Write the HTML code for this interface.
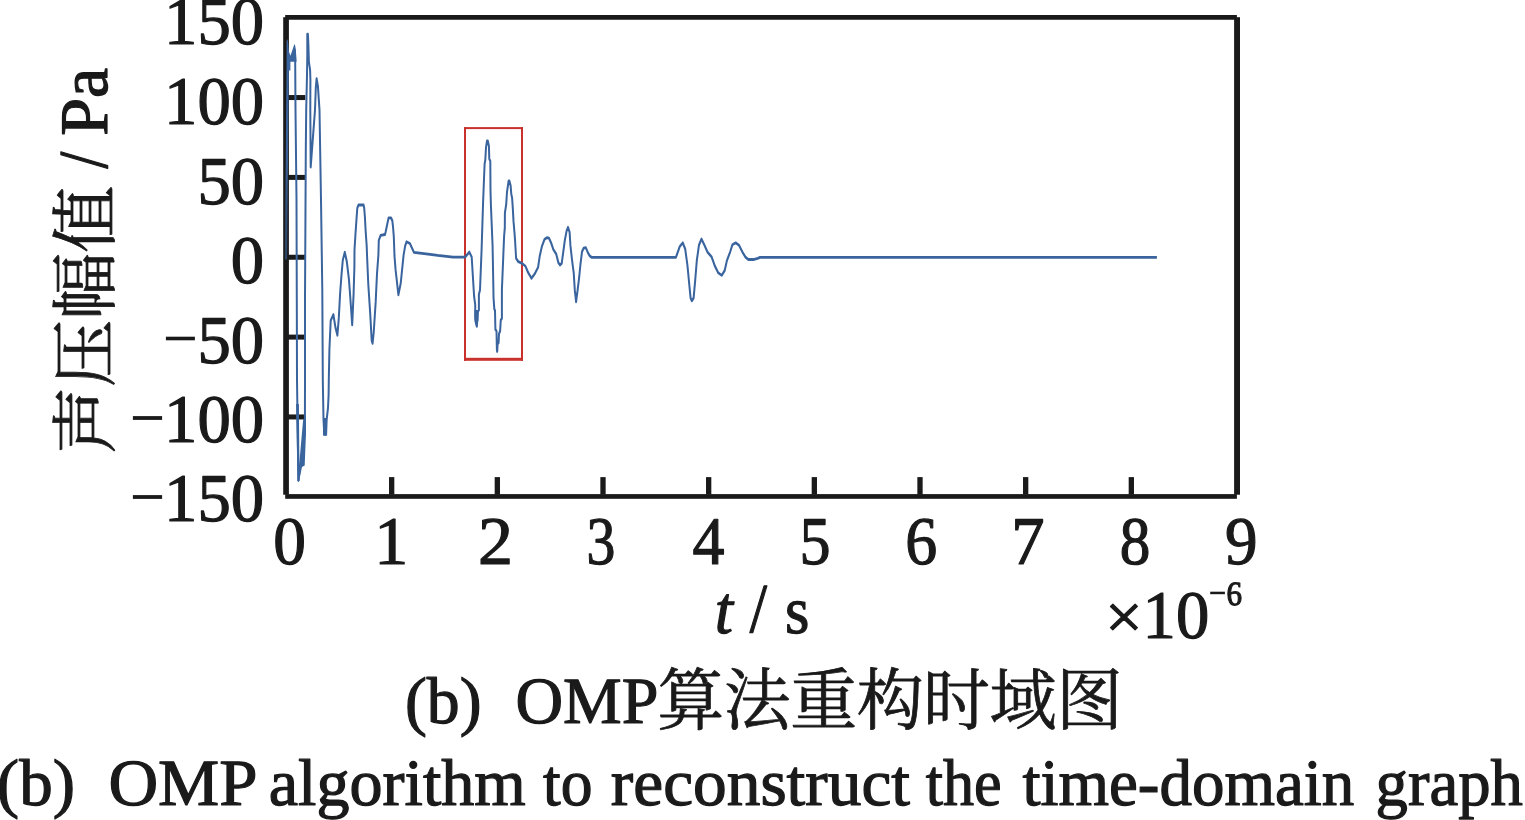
<!DOCTYPE html>
<html lang="zh"><head><meta charset="utf-8"><title>OMP algorithm to reconstruct the time-domain graph</title>
<style>
html,body{margin:0;padding:0;background:#fff;}
body{width:1525px;height:820px;overflow:hidden;font-family:"Liberation Serif",serif;}
svg{display:block;}
</style></head><body>
<svg width="1525" height="820" viewBox="0 0 1525 820">
<rect width="1525" height="820" fill="#ffffff"/>
<g fill="#1a1a1a">
<rect x="283.2" y="17.2" width="5.7" height="477.5"/>
<rect x="1234.1" y="17.2" width="5.9" height="477.5"/>
<rect x="285.2" y="15" width="951.7" height="4.75"/>
<rect x="285.2" y="494.1" width="951.7" height="4.7"/>
<rect x="389.02" y="477.1" width="5.3" height="17.5"/>
<rect x="494.68" y="477.1" width="5.3" height="17.5"/>
<rect x="600.35" y="477.1" width="5.3" height="17.5"/>
<rect x="706.02" y="477.1" width="5.3" height="17.5"/>
<rect x="811.68" y="477.1" width="5.3" height="17.5"/>
<rect x="917.35" y="477.1" width="5.3" height="17.5"/>
<rect x="1023.02" y="477.1" width="5.3" height="17.5"/>
<rect x="1128.68" y="477.1" width="5.3" height="17.5"/>
<rect x="288" y="95.05" width="17.3" height="5"/>
<rect x="288" y="174.90" width="17.3" height="5"/>
<rect x="288" y="254.75" width="17.3" height="5"/>
<rect x="288" y="334.60" width="17.3" height="5"/>
<rect x="288" y="414.45" width="17.3" height="5"/>
</g>
<g fill="#c9312c">
<rect x="464" y="127.1" width="59" height="2"/>
<rect x="464" y="357.8" width="59" height="3"/>
<rect x="464" y="127.1" width="2" height="233.7"/>
<rect x="521" y="127.1" width="2" height="233.7"/>
</g>
<path transform="scale(1,1.4)" d="M294.9,35.71 L295.2,44.29 L295.5,78.57 L296.5,142.86 L296.8,214.29 L297.0,271.43 L298.1,326.43 L298.4,343.21 L304.9,308.57 L305.0,271.43 L305.0,214.29 L305.8,107.14 L306.2,78.57 L307.0,53.57 L307.3,39.29 L307.3,24.43 L307.9,24.43 L308.4,32.14 L308.9,44.29 L310.1,50.00 L310.4,57.14 L310.3,78.57 L310.7,119.29 L315.0,78.57 L315.8,62.86 L316.6,56.14 L317.9,61.43 L319.5,78.57 L321.0,142.86 L322.3,207.14 L322.8,271.43 L323.5,300.00 L324.3,310.29 L326.0,310.29 L326.6,300.00 L328.0,291.43 L328.6,282.14 L328.8,271.43 L329.4,250.00 L330.7,228.93 L333.4,224.71 L335.4,233.71 L337.4,239.50 L338.8,227.07 L340.1,209.79 L341.5,196.36 L342.8,185.79 L344.8,180.14 L346.8,186.79 L348.9,199.21 L350.2,211.71 L352.2,232.00 L353.6,209.79 L354.4,190.57 L354.5,178.57 L355.4,168.00 L356.5,156.50 L357.3,148.71 L358.5,146.43 L363.6,146.43 L364.2,148.71 L364.9,154.93 L365.6,164.36 L366.7,175.86 L367.1,183.57 L368.3,203.07 L370.3,225.14 L371.7,243.36 L372.6,245.29 L373.7,237.57 L375.7,215.50 L377.0,195.43 L378.4,182.14 L378.8,171.71 L380.6,168.14 L385.0,167.50 L385.7,165.43 L387.2,160.21 L388.6,155.64 L391.0,155.64 L392.3,157.57 L393.0,161.79 L393.8,169.07 L394.5,182.86 L395.6,192.86 L398.4,210.64 L400.7,202.43 L403.6,182.14 L405.1,175.86 L406.6,172.64 L409.9,173.93 L413.9,180.21 L430.0,181.64 L437.7,182.43 L453.0,183.64 L465.1,183.64 L469.3,180.07 L471.7,183.57 L473.7,207.14 L474.2,212.36 L475.2,217.57 L475.4,229.07 L476.8,233.14 L477.5,227.14 L477.8,222.86 L478.9,221.43 L478.9,210.29 L480.0,207.14 L481.6,178.14 L483.0,146.43 L483.8,131.43 L484.6,117.14 L485.3,114.29 L486.0,105.36 L487.0,100.71 L487.8,100.71 L488.9,104.29 L489.3,113.57 L490.3,115.00 L490.5,135.71 L490.9,146.43 L492.6,175.79 L493.4,207.14 L493.5,212.36 L494.3,220.71 L495.0,221.79 L495.4,235.36 L496.5,236.43 L496.9,250.00 L497.2,251.07 L497.6,245.79 L498.6,244.79 L499.0,238.50 L500.1,236.43 L500.8,228.57 L501.9,227.50 L501.9,207.14 L504.1,168.71 L504.8,162.86 L504.9,152.14 L506.2,146.00 L507.0,137.14 L508.6,129.29 L509.4,129.29 L510.6,132.43 L511.3,138.64 L512.1,141.29 L512.8,148.57 L513.5,158.00 L514.5,166.36 L515.1,172.14 L516.1,184.43 L518.3,186.93 L522.1,188.14 L525.4,190.07 L528.2,194.79 L531.5,198.79 L534.8,195.57 L538.1,190.86 L539.7,183.00 L541.9,175.93 L544.6,170.86 L546.8,169.79 L549.0,170.14 L551.2,173.64 L553.4,178.29 L556.2,181.43 L558.4,187.71 L560.0,189.29 L561.7,188.14 L563.3,179.86 L564.9,171.29 L566.6,165.00 L568.0,162.36 L569.6,165.79 L570.4,175.14 L572.1,186.14 L573.7,194.79 L574.8,207.29 L576.1,215.57 L577.6,207.29 L579.2,197.93 L580.5,188.50 L582.0,179.86 L583.6,177.29 L585.8,176.86 L588.0,180.64 L589.6,182.64 L591.8,183.86 L675.9,183.86 L679.8,176.07 L682.8,173.43 L685.2,177.86 L687.4,189.29 L689.4,204.21 L690.6,212.86 L691.9,214.93 L693.6,212.86 L695.1,201.07 L696.8,186.14 L699.0,175.00 L701.5,170.71 L703.9,174.36 L707.7,180.29 L711.6,183.43 L714.9,190.07 L718.2,194.79 L721.7,196.71 L724.7,193.21 L726.9,186.14 L730.2,179.86 L732.4,174.79 L735.7,173.43 L739.0,175.14 L742.3,179.86 L745.6,183.79 L748.3,185.36 L753.3,185.36 L757.7,184.57 L759.9,183.86 L1156.9,183.86" fill="none" stroke="#3a649e" stroke-width="2.0" stroke-linejoin="round" stroke-linecap="butt"/>
<g fill="#3a649e">
<polygon points="286.5,70.5 286.6,41 287.2,39 287.9,41 288.8,51.3 290.5,55.7 293.9,45.5 294.5,43.9 295.1,45.5 295.8,49 296.6,61.7 290.4,61.7 290.4,70.5"/>
<linearGradient id="rg" gradientUnits="userSpaceOnUse" x1="0" y1="70" x2="0" y2="259"><stop offset="0" stop-color="#3a649e"/><stop offset="0.45" stop-color="#3a649e" stop-opacity="0.95"/><stop offset="1" stop-color="#3a649e" stop-opacity="0.55"/></linearGradient>
<polygon fill="url(#rg)" points="286.5,70 288.8,70 287.1,259.4 284.9,259.4"/>
<polygon points="303.2,419 305.9,419 306.0,432.7 304.7,465.6 302,467 299,481 298,478"/>
<polygon points="296.1,404 298.9,404 299.5,481 297.5,481"/>
<rect x="323" y="418" width="4.1" height="17.5"/>
<polygon points="474.4,310 478.6,310 478.4,320 477.2,326.8 476.2,326.8 474.4,318"/>
</g>
<g fill="#1a1a1a" stroke="#1a1a1a" stroke-width="1.2" stroke-linejoin="round" text-rendering="geometricPrecision" font-family="'Liberation Serif', serif">
<text transform="translate(164.09,44.40) scale(0.9800,1)" font-size="68">150</text>
<text transform="translate(164.09,124.00) scale(0.9800,1)" font-size="68">100</text>
<text transform="translate(197.41,203.60) scale(0.9800,1)" font-size="68">50</text>
<text transform="translate(230.73,283.10) scale(0.9800,1)" font-size="68">0</text>
<text transform="translate(197.41,362.60) scale(0.9800,1)" font-size="68">50</text>
<text transform="translate(164.09,442.20) scale(0.9800,1)" font-size="68">100</text>
<text transform="translate(164.09,521.30) scale(0.9800,1)" font-size="68">150</text>
<text transform="translate(273.19,563.50) scale(0.9621,1)" font-size="68">0</text>
<text transform="translate(374.27,563.50) scale(1.0000,1)" font-size="68">1</text>
<text transform="translate(477.97,563.50) scale(1.0291,1)" font-size="68">2</text>
<text transform="translate(586.54,563.50) scale(0.8496,1)" font-size="68">3</text>
<text transform="translate(692.42,563.50) scale(0.9417,1)" font-size="68">4</text>
<text transform="translate(799.55,563.50) scale(0.9127,1)" font-size="68">5</text>
<text transform="translate(905.21,563.50) scale(0.9402,1)" font-size="68">6</text>
<text transform="translate(1011.24,563.50) scale(0.9786,1)" font-size="68">7</text>
<text transform="translate(1119.85,563.50) scale(0.9000,1)" font-size="68">8</text>
<text transform="translate(1224.99,563.50) scale(0.9573,1)" font-size="68">9</text>
<text transform="translate(714.81,633.00) scale(0.9623,1)" font-size="68" font-style="italic">t</text>
<text transform="translate(749.80,632.30) scale(0.8872,1)" font-size="70">/</text>
<text transform="translate(785.03,632.60) scale(0.9333,1)" font-size="67">s</text>
<text transform="translate(1105.35,638.20) scale(1.0510,1)" font-size="63">×</text>
<text transform="translate(1142.61,638.10) scale(0.9800,1)" font-size="68">10</text>
<mask id="mk" maskUnits="userSpaceOnUse" x="1200" y="570" width="60" height="50"><rect x="1200" y="570" width="60" height="50" fill="#fff"/></mask><g mask="url(#mk)"><text transform="translate(1226.56,605.00) scale(0.9153,1)" font-size="34">6</text></g>
<text transform="translate(404.96,722.50) scale(0.9958,1)" font-size="66">(b)</text>
<text transform="translate(515.40,722.50) scale(0.9993,1)" font-size="66">OMP</text>
<text transform="translate(-3.19,805.30) scale(1.0154,1)" font-size="66">(b)</text>
<text transform="translate(108.39,805.30) scale(1.0428,1)" font-size="66">OMP</text>
<text transform="translate(268.75,805.30) scale(1.0016,1)" font-size="66">algorithm</text>
<text transform="translate(543.12,805.30) scale(0.9629,1)" font-size="66">to</text>
<text transform="translate(610.82,805.30) scale(1.0204,1)" font-size="66">reconstruct</text>
<text transform="translate(925.73,805.30) scale(0.9410,1)" font-size="66">the</text>
<text transform="translate(1022.41,805.30) scale(0.9841,1)" font-size="66">time-domain</text>
<text transform="translate(1375.60,805.30) scale(0.9806,1)" font-size="66">graph</text>
</g>
<g fill="#1a1a1a">
<rect x="165.9" y="336.7" width="29" height="3.6"/>
<rect x="132.9" y="416.1" width="29.2" height="3.8"/>
<rect x="132.9" y="495.1" width="29.2" height="3.8"/>
<rect x="1210.2" y="591.7" width="14.7" height="2.5"/>
</g>
<g transform="translate(107.4,453.7) rotate(-90)" fill="#1a1a1a" stroke="#1a1a1a" stroke-width="0.8" stroke-linejoin="round">
<text x="0" y="1.5" font-size="67" font-family="'Liberation Serif', 'Noto Serif CJK SC', serif">声压幅值</text>
</g>
<g transform="translate(107.4,0) rotate(-90)" fill="#1a1a1a" stroke="#1a1a1a" stroke-width="1.2" stroke-linejoin="round" text-rendering="geometricPrecision" font-family="'Liberation Serif', serif">
<text transform="translate(-168.60,-0.6) scale(0.8564,1)" font-size="70">/</text>
<text transform="translate(-135.75,0) scale(1.0000,1)" font-size="68">Pa</text>
</g>
<g fill="#1a1a1a" stroke="#1a1a1a" stroke-width="0.8" stroke-linejoin="round">
<text x="657.3" y="724" font-size="67" letter-spacing="-0.55" font-family="'Liberation Serif', 'Noto Serif CJK SC', serif">算法重构时域图</text>
</g>
</svg>
</body></html>
